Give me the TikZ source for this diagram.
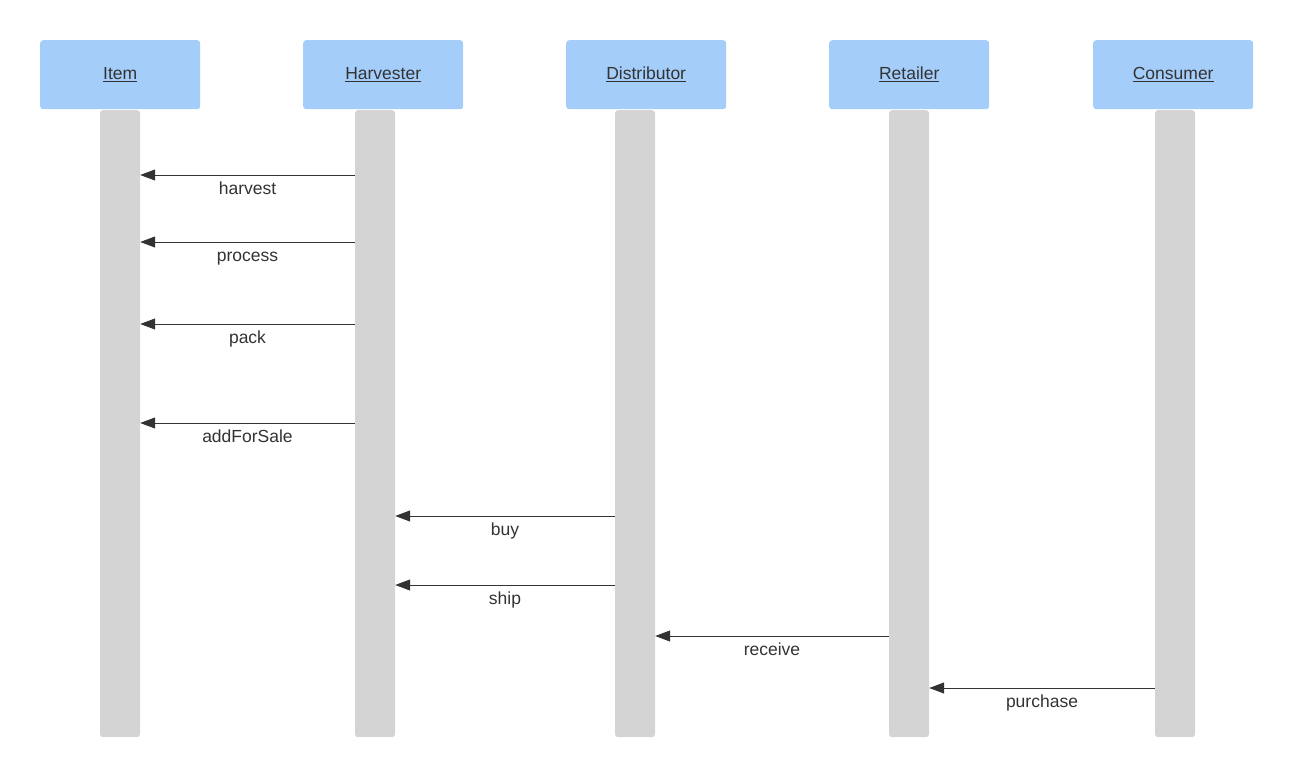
\documentclass[tikz,border=0pt]{standalone}
\usepackage{fontspec}
\setmainfont{Liberation Sans}
\usetikzlibrary{arrows.meta}
\definecolor{hdr}{HTML}{A4CDFA}
\definecolor{life}{HTML}{D4D4D4}
\definecolor{ink}{HTML}{333333}
\begin{document}
\begin{tikzpicture}[x=1pt,y=-1pt,
  hdrbox/.style={fill=hdr, rounded corners=3pt, minimum width=160pt, minimum height=69pt, inner sep=0pt, anchor=north west, font=\fontsize{17.5}{20}\selectfont, text=ink},
  lifebar/.style={fill=life, rounded corners=3pt, minimum width=40pt, minimum height=627pt, inner sep=0pt, anchor=north},
  msg/.style={draw=ink, line width=1pt, -{Triangle[length=15pt,width=11pt]}},
  lbl/.style={anchor=base, yshift=-19pt, font=\fontsize{17.5}{20}\selectfont, text=ink, inner sep=0pt}]
\useasboundingbox (0,0) rectangle (1293,777);
% headers
\node[hdrbox] (hItem) at (40,40) {\underline{Item}};
\node[hdrbox] (hHarv) at (303,40) {\underline{Harvester}};
\node[hdrbox] (hDist) at (566,40) {\underline{Distributor}};
\node[hdrbox] (hRet) at (829,40) {\underline{Retailer}};
\node[hdrbox] (hCons) at (1093,40) {\underline{Consumer}};
% lifelines
\node[lifebar] (lItem) at (120,110) {};
\node[lifebar] (lHarv) at (375,110) {};
\node[lifebar] (lDist) at (635,110) {};
\node[lifebar] (lRet) at (909,110) {};
\node[lifebar] (lCons) at (1175,110) {};
% message rows
\coordinate (m1) at (0,175);
\coordinate (m2) at (0,242);
\coordinate (m3) at (0,324);
\coordinate (m4) at (0,423);
\coordinate (m5) at (0,516);
\coordinate (m6) at (0,585);
\coordinate (m7) at (0,636);
\coordinate (m8) at (0,688);
\draw[msg] (lHarv.west |- m1) -- (lItem.east |- m1) node[lbl, midway] {harvest};
\draw[msg] (lHarv.west |- m2) -- (lItem.east |- m2) node[lbl, midway] {process};
\draw[msg] (lHarv.west |- m3) -- (lItem.east |- m3) node[lbl, midway] {pack};
\draw[msg] (lHarv.west |- m4) -- (lItem.east |- m4) node[lbl, midway] {addForSale};
\draw[msg] (lDist.west |- m5) -- (lHarv.east |- m5) node[lbl, midway] {buy};
\draw[msg] (lDist.west |- m6) -- (lHarv.east |- m6) node[lbl, midway] {ship};
\draw[msg] (lRet.west |- m7) -- (lDist.east |- m7) node[lbl, midway] {receive};
\draw[msg] (lCons.west |- m8) -- (lRet.east |- m8) node[lbl, midway] {purchase};
\end{tikzpicture}
\end{document}
